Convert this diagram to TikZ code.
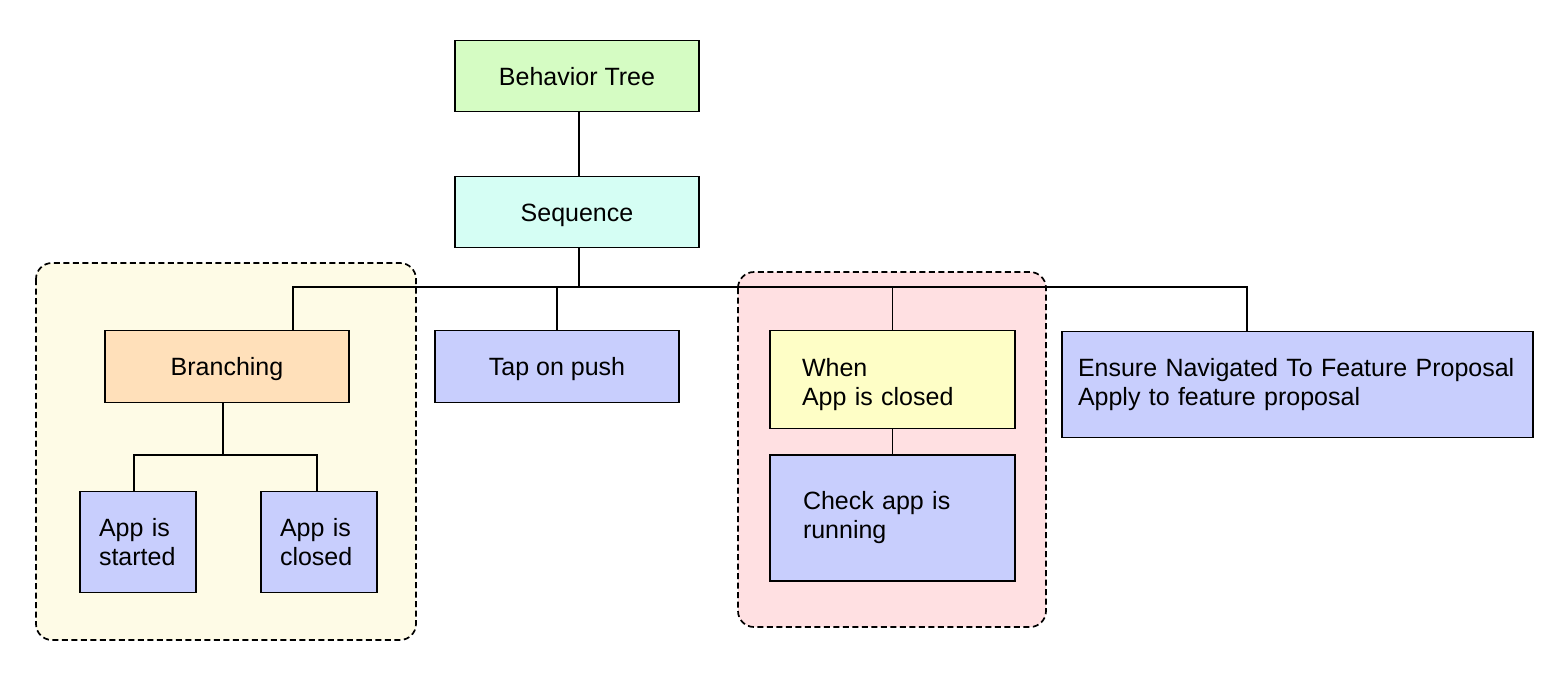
\documentclass[tikz,border=0pt]{standalone}
\usepackage{fontspec}
\setmainfont{Liberation Sans}
\definecolor{cgreen}{HTML}{D5FCC3}
\definecolor{cteal}{HTML}{D5FEF4}
\definecolor{corange}{HTML}{FFE0BA}
\definecolor{cblue}{HTML}{C8CEFD}
\definecolor{cyel}{HTML}{FEFEC6}
\definecolor{gyel}{HTML}{FEFBE6}
\definecolor{gred}{HTML}{FFE0E2}
\tikzset{
  box/.style={draw=black, line width=1.1pt, rectangle, font=\fontsize{25}{29}\selectfont, inner sep=0pt},
  one/.style={text height=20pt, text depth=2pt},
  grp/.style={draw=black, line width=1.7pt, dash pattern=on 6pt off 3.5pt, rounded corners=16pt},
  conn/.style={draw=black, line width=1.1pt},
}
\begin{document}
\begin{tikzpicture}[x=1pt,y=-1pt]
\useasboundingbox[fill=white] (0,0) rectangle (1565,681);
% groups
\path[grp, fill=gyel] (36,263) rectangle (416,640);
\path[grp, fill=gred] (738,272) rectangle (1046,627);
% nodes
\node[box, one, fill=cgreen, minimum width=244pt, minimum height=71pt] (bt) at (577,76) {Behavior Tree};
\node[box, one, fill=cteal, minimum width=244pt, minimum height=71pt] (seq) at (577,212) {Sequence};
\node[box, one, fill=corange, minimum width=244pt, minimum height=72pt] (br) at (227,366.5) {Branching};
\node[box, one, fill=cblue, minimum width=244pt, minimum height=72pt] (tap) at (557,366.5) {Tap on push};
\node[box, fill=cblue, minimum height=101pt, text width=78pt, inner xsep=19pt, align=left] (st) at (138,542) {App is\\started};
\node[box, fill=cblue, minimum height=101pt, text width=78pt, inner xsep=19pt, align=left] (cl) at (319,542) {App is\\closed};
\node[box, fill=cyel, minimum height=98pt, text width=181pt, inner xsep=32pt, align=left] (when) at (892.5,379.5) {\rule{0pt}{28pt}When\\App is closed};
\node[box, fill=cblue, minimum height=126pt, text width=179pt, inner xsep=33pt, align=left] (chk) at (892.5,518) {Check app is\\running};
\node[box, fill=cblue, minimum height=106pt, text width=439pt, inner xsep=16pt, align=left] (ens) at (1297.5,384.5) {Ensure Navigated To Feature Proposal\\Apply to feature proposal};
% bus
\coordinate (bus) at (579,287);
\draw[conn] (bt.south -| 579,0) -- (seq.north -| 579,0);
\draw[conn] (seq.south -| bus) -- (bus);
\draw[conn] (br.north -| 293,0) |- (bus) -| (ens.north -| 1247,0);
\draw[conn] (tap.north) -- (tap.north |- bus);
\draw[conn] (when.north) -- (when.north |- bus);
\draw[conn] (when.south) -- (chk.north);
\coordinate (bb) at (223,455);
\draw[conn] (br.south -| bb) -- (bb);
\draw[conn] (st.north -| 134,0) |- (bb) -| (cl.north -| 317,0);
\end{tikzpicture}
\end{document}
